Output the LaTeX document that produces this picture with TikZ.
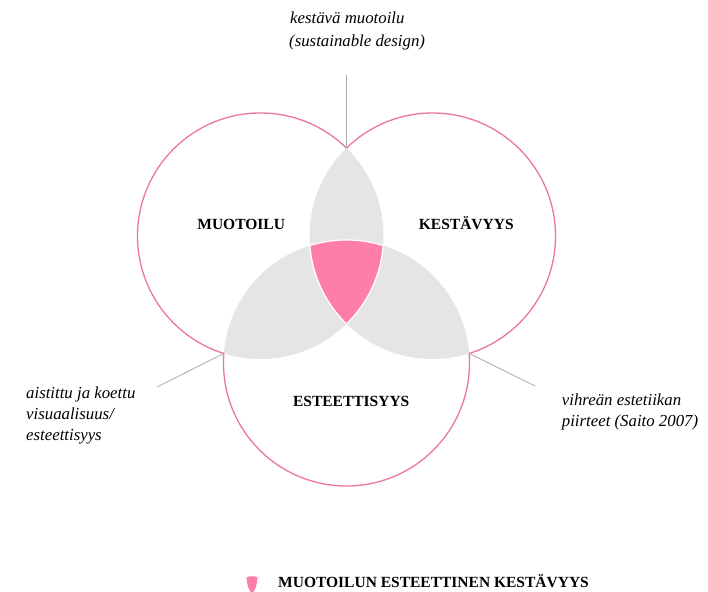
\documentclass[tikz,border=0pt]{standalone}
\usepackage{fontspec}
\setmainfont{Liberation Serif}
\definecolor{ringpink}{RGB}{236,118,160}
\definecolor{corepink}{RGB}{255,125,170}
\definecolor{lensgray}{RGB}{229,229,229}
\definecolor{leadgray}{RGB}{170,170,170}
\tikzset{
  ring/.style={draw=ringpink, line width=1.3pt},
  seam/.style={draw=white, line width=1.2pt},
  lead/.style={draw=leadgray, line width=0.8pt},
  itl/.style={font=\fontsize{16.8}{21}\selectfont\itshape, inner sep=0pt, anchor=base west},
  caps/.style={font=\fontsize{15.5}{18}\selectfont\bfseries, inner sep=0pt, anchor=base},
}
\begin{document}
\begin{tikzpicture}[x=1pt,y=-1pt]
\useasboundingbox (0,0) rectangle (708,591);
\fill[white] (0,0) rectangle (708,591);
\coordinate (cA) at (260.5,236);
\coordinate (cB) at (432.5,236);
\coordinate (cC) at (346.5,363);
\coordinate (pAB) at (346.5,148.1);
\coordinate (pAC) at (223.9,353.4);
\coordinate (pBC) at (469.1,353.4);
% lenses
\begin{scope}\clip (cA) circle (123pt); \fill[lensgray] (cB) circle (123pt);\end{scope}
\begin{scope}\clip (cA) circle (123pt); \fill[lensgray] (cC) circle (123pt);\end{scope}
\begin{scope}\clip (cB) circle (123pt); \fill[lensgray] (cC) circle (123pt);\end{scope}
% core
\begin{scope}\clip (cA) circle (123pt); \clip (cB) circle (123pt); \fill[corepink] (cC) circle (123pt);\end{scope}
% seams around core
\begin{scope}\clip (cA) circle (123pt); \clip (cB) circle (123pt); \draw[seam] (cC) circle (123pt);\end{scope}
\begin{scope}\clip (cA) circle (123pt); \clip (cC) circle (123pt); \draw[seam] (cB) circle (123pt);\end{scope}
\begin{scope}\clip (cB) circle (123pt); \clip (cC) circle (123pt); \draw[seam] (cA) circle (123pt);\end{scope}
% outer rings
\begin{scope}[even odd rule]
\clip (-20,-20) rectangle (730,610) (cB) circle (123pt);
\clip (-20,-20) rectangle (730,610) (cC) circle (123pt);
\draw[ring] (cA) circle (123pt);
\end{scope}
\begin{scope}[even odd rule]
\clip (-20,-20) rectangle (730,610) (cA) circle (123pt);
\clip (-20,-20) rectangle (730,610) (cC) circle (123pt);
\draw[ring] (cB) circle (123pt);
\end{scope}
\begin{scope}[even odd rule]
\clip (-20,-20) rectangle (730,610) (cA) circle (123pt);
\clip (-20,-20) rectangle (730,610) (cB) circle (123pt);
\draw[ring] (cC) circle (123pt);
\end{scope}
% leader lines
\coordinate (eTop) at (346.5,75);
\coordinate (eLeft) at (157,387);
\coordinate (eRight) at (535,386);
\draw[lead] (eTop) -- (pAB);
\draw[lead] (eLeft) -- (pAC);
\draw[lead] (eRight) -- (pBC);
% labels
\node[caps] (muo) at (241.2,229) {MUOTOILU};
\node[caps] (kes) at (466.3,229.3) {KESTÄVYYS};
\node[caps] (est) at (351.2,406) {ESTEETTISYYS};
\node[itl] (top1) at (290,24) {kestävä muotoilu};
\node[itl] (top2) at (289,46.5) {(sustainable design)};
\node[itl] (lef1) at (26,398.3) {aistittu ja koettu};
\node[itl] (lef2) at (26,419) {visuaalisuus/};
\node[itl] (lef3) at (26,440) {esteettisyys};
\node[itl] (rig1) at (561.7,405.7) {vihreän estetiikan};
\node[itl] (rig2) at (561.7,426.7) {piirteet (Saito 2007)};
% legend
\fill[corepink] (246.7,577) .. controls (249.5,576) and (254.5,576) .. (257.3,577)
  .. controls (257.5,585) and (255,590) .. (252,594)
  .. controls (249,590) and (246.5,585) .. cycle;
\node[caps, anchor=base west] (leg) at (278,587.3) {MUOTOILUN ESTEETTINEN KESTÄVYYS};
\end{tikzpicture}
\end{document}
